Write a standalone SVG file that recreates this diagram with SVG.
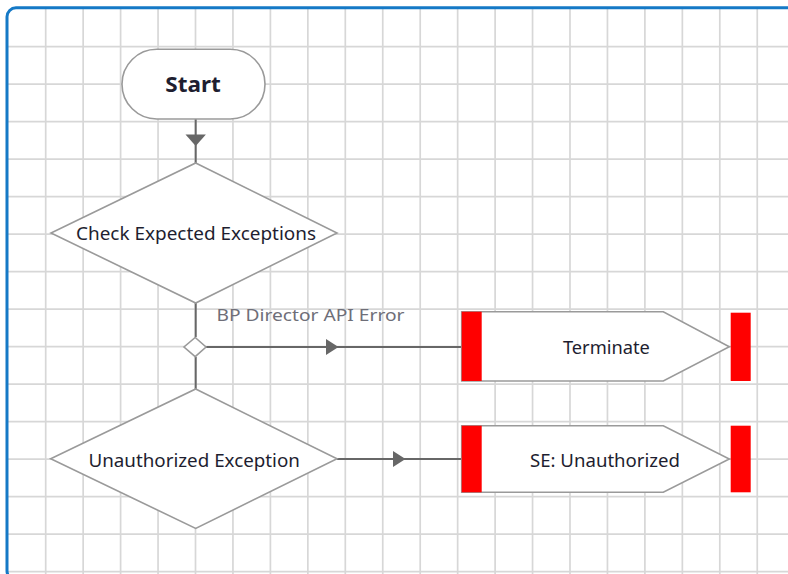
<svg xmlns="http://www.w3.org/2000/svg" width="788" height="574" viewBox="0 0 788 574">
<defs>
<style>
.grid{stroke:#d7d7d7;stroke-width:1.7;fill:none}
.node{fill:#fff;stroke:#9a9a9a;stroke-width:1.6}
.bar{fill:#ff0000}
.conn{stroke:#676767;stroke-width:2;fill:none}
.head{fill:#676767;stroke:none}
.t{font-family:"Noto Sans","Open Sans","DejaVu Sans",sans-serif;font-size:17.5px;fill:#1e1e30;text-anchor:middle}
.lbl{font-family:"Noto Sans","Open Sans","DejaVu Sans",sans-serif;font-size:17px;fill:#6e6e78}
</style>
</defs>
<rect width="788" height="574" fill="#fff"/>
<g id="grid">
<path class="grid" d="M45.7 9V574M83.15 9V574M120.6 9V574M158.05 9V574M195.5 9V574M232.95 9V574M270.4 9V574M307.85 9V574M345.3 9V574M382.75 9V574M420.2 9V574M457.65 9V574M495.1 9V574M532.55 9V574M570 9V574M607.45 9V574M644.9 9V574M682.35 9V574M719.8 9V574M757.25 9V574"/>
<path class="grid" d="M8 46.7H788M8 84.2H788M8 121.7H788M8 159.2H788M8 196.7H788M8 234.2H788M8 271.7H788M8 309.2H788M8 346.7H788M8 384.2H788M8 421.7H788M8 459.2H788M8 496.7H788M8 534.2H788M8 571.7H788"/>
</g>
<rect id="frame" x="7" y="7.8" width="790" height="572" rx="9" fill="none" stroke="#1579c6" stroke-width="3"/>
<g id="connectors">
<line class="conn" x1="195.7" y1="119" x2="195.7" y2="163"/>
<polygon class="head" points="185.5,134.5 205.9,134.5 195.7,146"/>
<line class="conn" x1="195.7" y1="302" x2="195.7" y2="337"/>
<line class="conn" x1="195.7" y1="357" x2="195.7" y2="390"/>
<line class="conn" x1="206" y1="347" x2="462" y2="347"/>
<polygon class="head" points="326,339 326,355 338.5,347"/>
<line class="conn" x1="337" y1="459" x2="462" y2="459"/>
<polygon class="head" points="393,451 393,467 405.5,459"/>
<text class="lbl" x="216.5" y="320.5" textLength="188" lengthAdjust="spacingAndGlyphs">BP Director API Error</text>
</g>
<g id="start">
<rect class="node" x="122" y="49.3" width="143" height="69.7" rx="34.8"/>
<text class="t" x="193" y="92" style="font-weight:bold;font-size:21.5px" textLength="55.5" lengthAdjust="spacingAndGlyphs">Start</text>
</g>
<g id="check">
<polygon class="node" points="195.7,163 337,233 195.7,303 51,233"/>
<text class="t" x="196" y="239.5" textLength="240" lengthAdjust="spacingAndGlyphs">Check Expected Exceptions</text>
</g>
<g id="choice">
<polygon class="node" points="195.2,337.5 206,347 195.2,356.7 184,347"/>
</g>
<g id="unauth">
<polygon class="node" points="195.7,389 337,458.8 195.7,528.4 50.7,458.8"/>
<text class="t" x="194.2" y="466.5" textLength="211.5" lengthAdjust="spacingAndGlyphs">Unauthorized Exception</text>
</g>
<g id="terminate">
<polygon class="node" points="461.7,311.7 663.3,311.7 729.3,346.7 663.3,381 461.7,381"/>
<rect class="bar" x="461.7" y="311.7" width="20" height="69.3"/>
<rect class="bar" x="730.7" y="312.7" width="20" height="68.3"/>
<text class="t" x="606.4" y="354" textLength="87" lengthAdjust="spacingAndGlyphs">Terminate</text>
</g>
<g id="se-unauth">
<polygon class="node" points="461.7,425.7 663.3,425.7 729.3,459 663.3,492.3 461.7,492.3"/>
<rect class="bar" x="461.7" y="425.7" width="20" height="66.6"/>
<rect class="bar" x="730.7" y="425.7" width="20" height="66.6"/>
<text class="t" x="605" y="466.7" textLength="150" lengthAdjust="spacingAndGlyphs">SE: Unauthorized</text>
</g>
</svg>
